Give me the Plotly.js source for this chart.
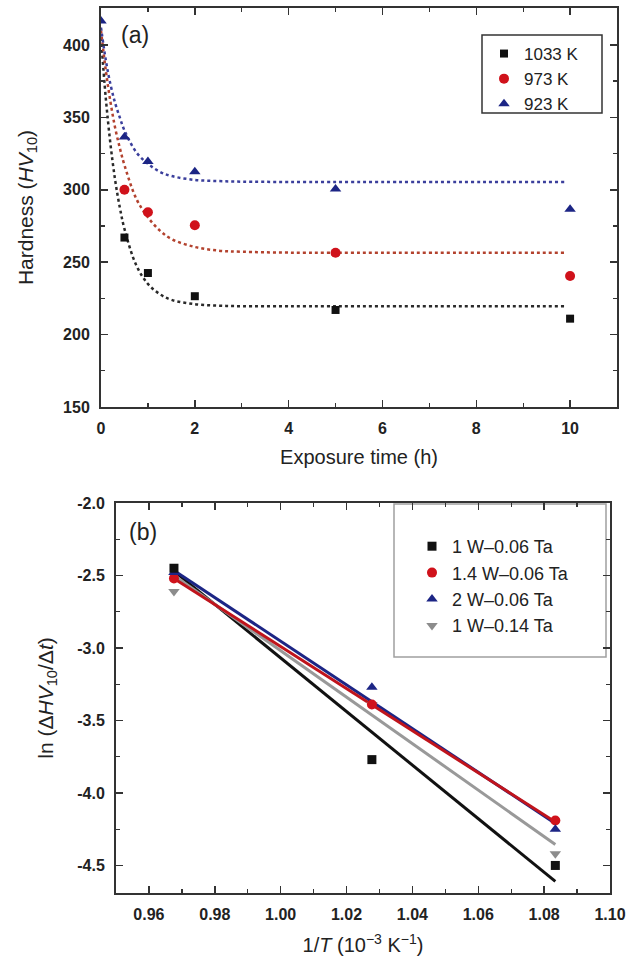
<!DOCTYPE html>
<html>
<head>
<meta charset="utf-8">
<script src="https://cdn.plot.ly/plotly-3.0.1.min.js"></script>
<style>html,body{margin:0;padding:0;background:#fff;}#chart{width:638px;height:965px;}</style>
</head>
<body>
<div id="chart"></div>
<script>
// ---------- Panel (a): hardness vs exposure time ----------
const t1033 = [0.5, 1, 2, 5, 10];
const hv1033 = [267, 242.5, 226.5, 217, 211];
const t973 = [0.5, 1, 2, 5, 10];
const hv973 = [300, 284.5, 275.5, 256.5, 240.5];
const t923 = [0, 0.5, 1, 2, 5, 10];
const hv923 = [416.5, 336.5, 319.5, 312.5, 300.5, 286.5];

// fitted curves
const fitT = [0, 0.1, 0.2, 0.3, 0.4, 0.5, 0.75, 1, 1.25, 1.5, 2, 2.5, 3, 4, 6, 9.9];
const fit1033 = [405, 364, 332, 307, 288, 273, 248, 235, 228, 224, 221, 220, 219.6, 219.5, 219.5, 219.5];
const fit973 = [410, 383, 361, 343, 329, 317, 294, 281, 272, 266, 260.5, 258, 257.2, 256.6, 256.5, 256.5];
const fit923 = [412, 390, 373, 360, 350, 341, 326, 318, 312.5, 309.5, 306.8, 306, 305.6, 305.4, 305.4, 305.4];

const legendA = ["1033 K", "973 K", "923 K"];

// ---------- Panel (b): Arrhenius plot ----------
const invT = [0.9676, 1.0277, 1.0834];
const ln1W006 = [-2.45, -3.77, -4.50];
const ln14W006 = [-2.52, -3.39, -4.19];
const ln2W006 = [-2.48, -3.27, -4.25];
const ln1W014 = [-2.61, -3.39, -4.42];

const fitInvT = [0.9676, 1.0834];
const fitL1W006 = [-2.47, -4.61];
const fitL14W006 = [-2.52, -4.20];
const fitL2W006 = [-2.465, -4.21];
const fitL1W014 = [-2.50, -4.355];

const legendB = ["1 W\u20130.06 Ta", "1.4 W\u20130.06 Ta", "2 W\u20130.06 Ta", "1 W\u20130.14 Ta"];

const yTickValsB = [-4.5, -4.0, -3.5, -3.0, -2.5, -2.0];
const yTickTextB = ["-4.5", "-4.0", "-3.5", "-3.0", "-2.5", "-2.0"];

// ---------- styles ----------
const FONT = "Liberation Sans, Arial, sans-serif";
const cBlack = "#111111", cRed = "#d0121b", cBlue = "#1c2585", cGray = "#8c8c8c";
const axisCol = "#333333";

const traces = [
  // panel a fit curves
  {x: fitT, y: fit1033, xaxis: "x", yaxis: "y", mode: "lines", showlegend: false, hoverinfo: "skip",
   line: {color: "#2a2a2a", width: 2.5, dash: "dot", shape: "spline"}},
  {x: fitT, y: fit973, xaxis: "x", yaxis: "y", mode: "lines", showlegend: false, hoverinfo: "skip",
   line: {color: "#b3422e", width: 2.5, dash: "dot", shape: "spline"}},
  {x: fitT, y: fit923, xaxis: "x", yaxis: "y", mode: "lines", showlegend: false, hoverinfo: "skip",
   line: {color: "#3b3f9c", width: 2.5, dash: "dot", shape: "spline"}},
  // panel a data
  {x: t1033, y: hv1033, xaxis: "x", yaxis: "y", mode: "markers", name: legendA[0], legend: "legend",
   marker: {symbol: "square", size: 8, color: cBlack}},
  {x: t973, y: hv973, xaxis: "x", yaxis: "y", mode: "markers", name: legendA[1], legend: "legend",
   marker: {symbol: "circle", size: 10, color: cRed}},
  {x: t923, y: hv923, xaxis: "x", yaxis: "y", mode: "markers", name: legendA[2], legend: "legend",
   marker: {symbol: "triangle-up", size: 10, color: cBlue}},
  // panel b fit lines
  {x: fitInvT, y: fitL1W006, xaxis: "x2", yaxis: "y2", mode: "lines", showlegend: false, hoverinfo: "skip",
   line: {color: cBlack, width: 3}},
  {x: fitInvT, y: fitL1W014, xaxis: "x2", yaxis: "y2", mode: "lines", showlegend: false, hoverinfo: "skip",
   line: {color: "#999999", width: 3}},
  {x: fitInvT, y: fitL2W006, xaxis: "x2", yaxis: "y2", mode: "lines", showlegend: false, hoverinfo: "skip",
   line: {color: cBlue, width: 3}},
  {x: fitInvT, y: fitL14W006, xaxis: "x2", yaxis: "y2", mode: "lines", showlegend: false, hoverinfo: "skip",
   line: {color: "#c0141c", width: 3}},
  // panel b data (drawing order: gray, red, blue, black; legend order via legendrank)
  {x: invT, y: ln1W014, xaxis: "x2", yaxis: "y2", mode: "markers", name: legendB[3], legend: "legend2", legendrank: 4,
   marker: {symbol: "triangle-down", size: 10, color: cGray}},
  {x: invT, y: ln14W006, xaxis: "x2", yaxis: "y2", mode: "markers", name: legendB[1], legend: "legend2", legendrank: 2,
   marker: {symbol: "circle", size: 10, color: cRed}},
  {x: invT, y: ln2W006, xaxis: "x2", yaxis: "y2", mode: "markers", name: legendB[2], legend: "legend2", legendrank: 3,
   marker: {symbol: "triangle-up", size: 10, color: cBlue}},
  {x: invT, y: ln1W006, xaxis: "x2", yaxis: "y2", mode: "markers", name: legendB[0], legend: "legend2", legendrank: 1,
   marker: {symbol: "square", size: 9, color: cBlack}}
];

const W = 638, H = 965;
const px = v => v / W;
const py = v => 1 - v / H;

function axisBase() {
  return {
    showline: true, linecolor: axisCol, linewidth: 2, mirror: "ticks",
    ticks: "inside", ticklen: 7, tickwidth: 1.5, tickcolor: axisCol,
    showgrid: false, zeroline: false,
    tickfont: {family: FONT, size: 16, color: "#222", weight: "bold"},
    ticklabelstandoff: 6,
    minor: {ticks: "inside", ticklen: 4, tickwidth: 1.3, tickcolor: axisCol, showgrid: false}
  };
}

const layout = {
  width: W, height: H,
  margin: {l: 0, r: 0, t: 0, b: 0},
  paper_bgcolor: "#fff", plot_bgcolor: "#fff",
  font: {family: FONT, color: "#222"},
  xaxis: Object.assign(axisBase(), {
    domain: [px(101), px(617)], anchor: "y", range: [0, 11],
    tickmode: "linear", tick0: 0, dtick: 2,
    minor: Object.assign(axisBase().minor, {dtick: 1}),
    title: {text: "Exposure time (h)", font: {family: FONT, size: 20, color: "#222"}, standoff: 14}
  }),
  yaxis: Object.assign(axisBase(), {
    domain: [py(407), py(8)], anchor: "x", range: [150, 425.5],
    tickmode: "linear", tick0: 150, dtick: 50,
    minor: Object.assign(axisBase().minor, {dtick: 25}),
    title: {text: "Hardness (<i>HV</i><sub>10</sub>)", font: {family: FONT, size: 21, color: "#222"}, standoff: 24}
  }),
  xaxis2: Object.assign(axisBase(), {
    domain: [px(116), px(610)], anchor: "y2", range: [0.95, 1.10],
    tickmode: "linear", tick0: 0.96, dtick: 0.02, tickformat: ".2f",
    minor: Object.assign(axisBase().minor, {dtick: 0.01}),
    title: {text: "1/<i>T</i> (10<sup>\u22123</sup> K<sup>\u22121</sup>)", font: {family: FONT, size: 20, color: "#222"}, standoff: 16}
  }),
  yaxis2: Object.assign(axisBase(), {
    domain: [py(893), py(503)], anchor: "x2", range: [-4.69, -2.0],
    tickmode: "array", tickvals: yTickValsB, ticktext: yTickTextB,
    minor: Object.assign(axisBase().minor, {dtick: 0.25, tick0: -2.0}),
    title: {text: "ln (\u0394<i>HV</i><sub>10</sub>/\u0394<i>t</i>)", font: {family: FONT, size: 21, color: "#222"}, standoff: 18}
  }),
  legend: {
    x: px(484), y: py(36), xanchor: "left", yanchor: "top",
    bgcolor: "rgba(0,0,0,0)", borderwidth: 0,
    font: {family: FONT, size: 17, color: "#222"},
    tracegroupgap: 0
  },
  legend2: {
    x: px(412), y: py(528), xanchor: "left", yanchor: "top",
    bgcolor: "rgba(0,0,0,0)", borderwidth: 0,
    font: {family: FONT, size: 18, color: "#222"},
    tracegroupgap: 0, traceorder: "normal"
  },
  shapes: [
    {type: "rect", xref: "paper", yref: "paper", x0: px(482), x1: px(602), y0: py(113), y1: py(35),
     line: {color: "#333333", width: 1.5}, fillcolor: "rgba(0,0,0,0)", layer: "below"},
    {type: "rect", xref: "paper", yref: "paper", x0: px(394), x1: px(606), y0: py(657), y1: py(504),
     line: {color: "#a0a0a0", width: 1.5}, fillcolor: "rgba(0,0,0,0)", layer: "below"}
  ],
  annotations: [
    {text: "(a)", xref: "paper", yref: "paper", x: px(135), y: py(35), xanchor: "center", yanchor: "middle",
     showarrow: false, font: {family: FONT, size: 23, color: "#222"}},
    {text: "(b)", xref: "paper", yref: "paper", x: px(143), y: py(532), xanchor: "center", yanchor: "middle",
     showarrow: false, font: {family: FONT, size: 23, color: "#222"}}
  ]
};

Plotly.newPlot("chart", traces, layout, {displayModeBar: false, staticPlot: true});
</script>
</body>
</html>
